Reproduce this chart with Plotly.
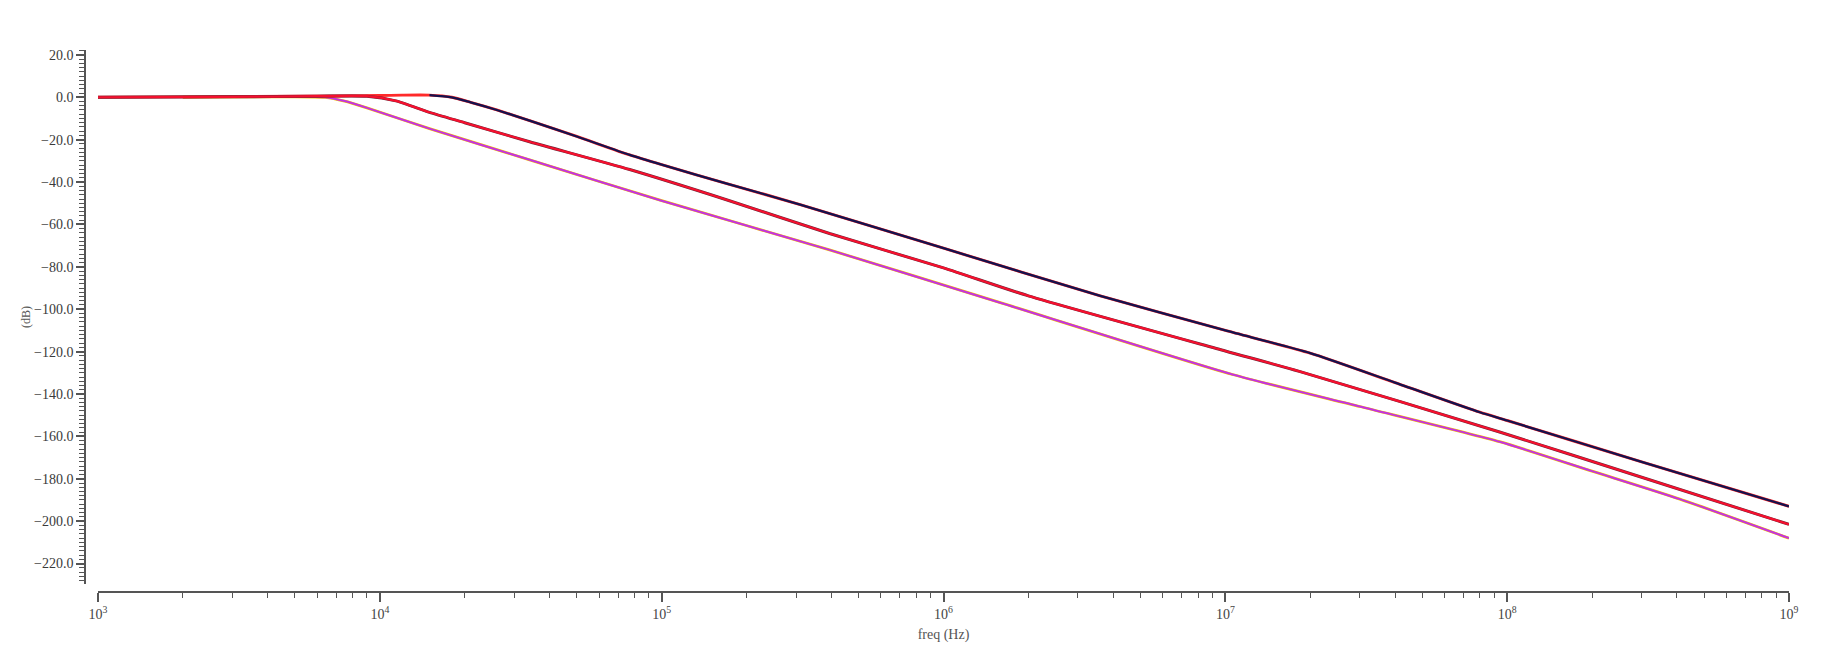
import plotly.graph_objects as go

# ---- data (freq in Hz, magnitude in dB) ----
freq_top = [1e3, 5e3, 1e4, 1.2e4, 1.5e4, 1.8e4, 2.1e4, 2.6e4, 3.4e4, 5e4, 7.7e4, 1e5, 1.74e5,
            3.1e5, 1e6, 3.6e6, 1e7, 2e7, 4e7, 8e7, 1e8, 3e8, 1e9]
db_top = [0.0, 0.5, 0.8, 1.0, 1.0, 0.0, -2.4, -6.0, -11.0, -18.5, -27.2, -31.8, -41.1,
          -50.6, -71.2, -93.7, -110.0, -120.7, -134.6, -148.6, -152.5, -172.0, -193.0]

freq_mid = [1e3, 3e3, 6e3, 9e3, 1.14e4, 1.5e4, 2e4, 3.4e4, 7.7e4, 1.74e5,
            3.94e5, 1e6, 2e6, 1e7, 1.83e7, 9.4e7, 3e8, 1e9]
db_mid = [0.0, 0.2, 0.5, 0.5, -1.7, -7.1, -12.0, -21.0, -34.1, -48.8,
          -64.3, -80.5, -93.7, -119.7, -129.3, -157.9, -179.3, -201.5]

freq_bot = [2e3, 4e3, 6.4e3, 7.5e3, 9e3, 1.5e4, 3.4e4, 1e5, 3.94e5, 1.58e6,
            1.06e7, 3e7, 9.4e7, 2e8, 4.1e8, 1e9]
db_bot = [0.0, 0.2, 0.0, -1.8, -5.0, -14.8, -29.5, -48.8, -72.0, -96.8,
          -130.8, -145.9, -162.5, -176.4, -189.6, -208.0]

x_tickvals = [1e3, 1e4, 1e5, 1e6, 1e7, 1e8, 1e9]
x_ticktext = ["10<sup>3</sup>", "10<sup>4</sup>", "10<sup>5</sup>", "10<sup>6</sup>",
              "10<sup>7</sup>", "10<sup>8</sup>", "10<sup>9</sup>"]
y_tickvals = [20, 0, -20, -40, -60, -80, -100, -120, -140, -160, -180, -200, -220]

# ---- figure (page body has an 8px margin) ----
OFF = 8
W, H = 1833 - 2 * OFF, 659 - 2 * OFF
ML, MT = 85 - OFF, 50 - OFF
MR = W - (1789 - OFF)
MB = H - (601 - OFF)
pw, ph = W - ML - MR, H - MT - MB

fig = go.Figure()

def add(x, y, color, width):
    fig.add_trace(go.Scatter(x=x, y=y, mode="lines", showlegend=False,
                             line=dict(color=color, width=width, shape="spline",
                                       smoothing=0.6),
                             hoverinfo="skip"))

# bottom bundle
add(freq_bot, db_bot, "#f2c000", 2.8)
add(freq_bot, db_bot, "#c433e0", 2.0)
# top bundle (red underneath, dark navy on top from the corner on)
add(freq_top, db_top, "#ff2a2a", 2.9)
add(freq_top[4:], db_top[4:], "#15124e", 2.3)
# middle bundle
add(freq_mid, db_mid, "#6a2838", 3.0)
add(freq_mid, db_mid, "#f5102e", 2.2)

serif = "Liberation Serif, Times New Roman, serif"
axcol = "#555555"

fig.update_layout(
    width=W, height=H,
    margin=dict(l=ML, r=MR, t=MT, b=MB, pad=0),
    paper_bgcolor="white", plot_bgcolor="white",
    font=dict(family=serif, size=14, color="#3a3a3a"),
    xaxis=dict(
        type="log", range=[3, 9],
        domain=[(98 - 85) / pw, 1.0],
        anchor="free", position=0.0,
        showgrid=False, zeroline=False,
        showline=True, linecolor=axcol, linewidth=1.5,
        ticks="outside", ticklen=9, tickwidth=1.5, tickcolor=axcol,
        tickvals=x_tickvals, ticktext=x_ticktext,
        tickfont=dict(family=serif, size=14, color="#444444"),
        minor=dict(ticks="outside", ticklen=5, tickwidth=1.2, tickcolor=axcol,
                   dtick="D1", showgrid=False),
        title=dict(text="freq (Hz)", font=dict(family=serif, size=14, color="#555555"),
                   standoff=8),
    ),
    yaxis=dict(
        range=[-229.7, 22.3],
        domain=[(601 - 593) / ph, 1.0],
        anchor="free", position=0.0,
        showgrid=False, zeroline=False,
        showline=True, linecolor=axcol, linewidth=1.5,
        ticks="outside", ticklen=8, tickwidth=1.5, tickcolor=axcol,
        tickvals=y_tickvals, tickformat=".1f",
        tickfont=dict(family=serif, size=14, color="#3a3a3a"),
        minor=dict(ticks="outside", ticklen=5, tickwidth=1.2, tickcolor=axcol,
                   dtick=2, showgrid=False),
    ),
    annotations=[dict(text="(dB)", xref="paper", yref="paper",
                      x=(26 - 85) / pw, y=(601 - 321.5) / ph,
                      xanchor="center", yanchor="middle", textangle=-90,
                      showarrow=False,
                      font=dict(family=serif, size=12, color="#555555"))],
)

fig.write_html("out.html")
